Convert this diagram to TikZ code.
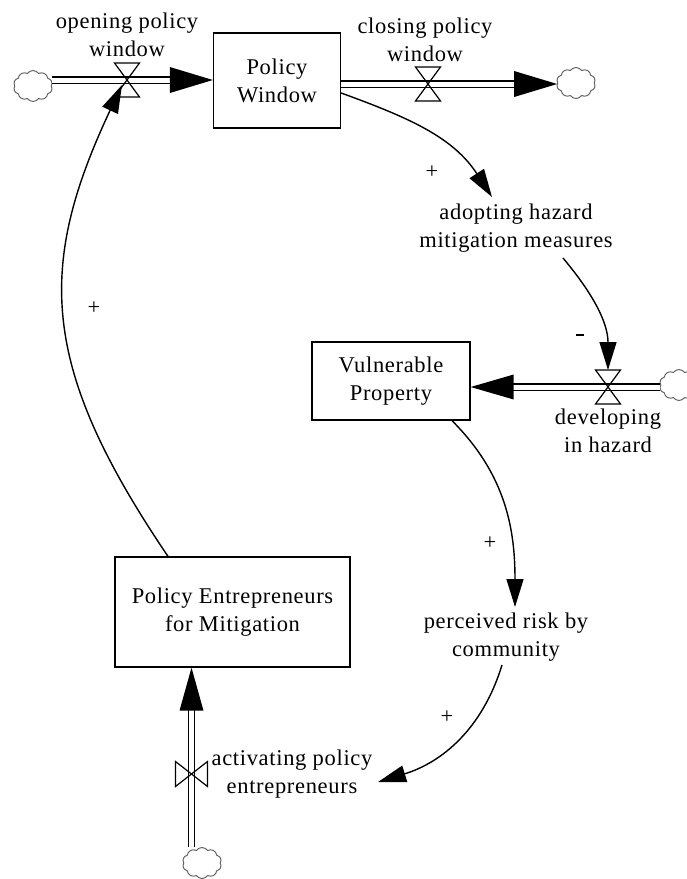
\documentclass[tikz,border=0pt]{standalone}
\usepackage{fontspec}
\setmainfont{Liberation Serif}[LetterSpace=3]
\usetikzlibrary{arrows.meta,shapes.symbols,calc}
\newcommand\dfont{\fontsize{22.5}{28}\selectfont}
\tikzset{
  stock/.style={draw, line width=1.3pt, align=center, inner sep=0pt, font=\dfont},
  lbl/.style={align=center, inner sep=0pt, font=\dfont},
  sign/.style={inner sep=0pt, font=\dfont},
  pipe/.style={draw, line width=1.3pt, double=white, double distance=5pt},
  info/.style={line width=1.4pt, -{Triangle[length=28pt,width=17pt]}},
  cloudy/.style={cloud, cloud puffs=10, cloud puff arc=110, aspect=1.3, draw=black!60,
    line width=1pt, inner sep=0pt, minimum width=39pt, minimum height=31pt},
  hvalve/.pic={\draw[line width=1.2pt] (-12.5,17) -- (12.5,17) -- (-12.5,-17) -- (12.5,-17) -- cycle;},
  vvalve/.pic={\draw[line width=1.2pt] (-16,12.5) -- (-16,-12.5) -- (16,12.5) -- (16,-12.5) -- cycle;}
}
\begin{document}
\begin{tikzpicture}[x=1pt,y=1pt]
\useasboundingbox[fill=white] (0,0) rectangle (687,-879);

% stocks
\node[stock, minimum width=127pt, minimum height=95pt] (pw) at (277,-80.5) {Policy\\Window};
\node[stock, minimum width=158pt, minimum height=78pt] (vp) at (391,-381) {Vulnerable\\Property};
\node[stock, minimum width=235pt, minimum height=110pt] (pe) at (232.5,-612) {Policy Entrepreneurs\\for Mitigation};

% clouds
\node[cloudy] (c1) at (33,-86) {};
\node[cloudy] (c2) at (576,-83) {};
\node[cloudy] (c3) at (679,-385) {};
\node[cloudy] (c4) at (202,-863) {};

% valves
\coordinate (v1) at (127,-80);
\coordinate (v2) at (428,-84);
\coordinate (v3) at (608,-387);
\coordinate (v4) at (191.5,-774);

% pipes
\draw[pipe, shorten >=40pt] (c1.east |- v1) -- (pw.west |- v1);
\fill (pw.west |- v1) -- ++(-43,13) -- ++(0,-26) -- cycle;
\draw[pipe, shorten >=40pt] (pw.east |- v2) -- (c2.west |- v2);
\fill (c2.west |- v2) -- ++(-43,13) -- ++(0,-26) -- cycle;
\draw[pipe, shorten >=40pt] (c3.west |- v3) -- (vp.east |- v3);
\fill (vp.east |- v3) -- ++(43,12.5) -- ++(0,-25) -- cycle;
\draw[pipe, shorten >=40pt] (c4.north -| v4) -- (pe.south -| v4);
\fill (pe.south -| v4) -- ++(-12,-43) -- ++(24,0) -- cycle;

\pic at (v1) {hvalve};
\pic at (v2) {hvalve};
\pic at (v3) {hvalve};
\pic at (v4) {vvalve};

% labels
\node[lbl] (lopen) at (127,-35) {opening policy\\window};
\node[lbl] (lclose) at (425,-39.5) {closing policy\\window};
\node[lbl] (ad) at (516,-228) {adopting hazard\\mitigation measures};
\node[lbl] (ldev) at (608,-431) {developing\\in hazard};
\node[lbl] (pr) at (506,-637.5) {perceived risk by\\community};
\node[lbl] (lact) at (292,-774) {activating policy\\entrepreneurs};

% info arrow end points
\coordinate (adtip) at (492,-197);
\coordinate (adout) at (563,-258);
\coordinate (prtip) at (515,-607);
\coordinate (prout) at (502,-665);
\coordinate (acttip) at (378,-782);

% info arrows
\draw[info] ($(pw.east)+(0,-12.5)$) to[out=-20,in=123] (adtip);
\draw[info] (adout) to[out=-50,in=90] ($(v3)+(0,17)$);
\draw[info] ($(vp.south)+(61,0)$) to[out=-45,in=90] (prtip);
\draw[info] (prout) to[out=-107,in=17] (acttip);
\draw[info] ($(pe.north)+(-64.5,0)$) .. controls (39,-366) and (37,-266) .. ($(v1)+(-5,-5)$);

% polarities
\node[sign] at (432,-172) {+};
\node[sign] at (580,-335) {\rule{8pt}{2.6pt}};
\node[sign] at (490,-543) {+};
\node[sign] at (447,-717) {+};
\node[sign] at (94,-308) {+};
\end{tikzpicture}
\end{document}
